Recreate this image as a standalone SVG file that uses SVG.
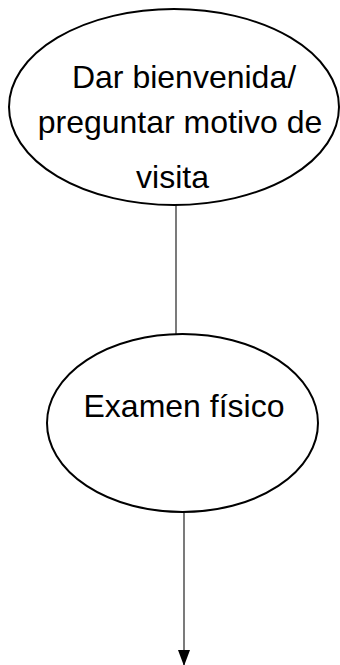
<svg xmlns="http://www.w3.org/2000/svg" width="340" height="665" viewBox="0 0 340 665">
<style>
.node{fill:#fff;stroke:#000;stroke-width:2}
.t{font-family:"Liberation Sans",Arial,sans-serif;font-size:32px;fill:#000;text-anchor:middle}
.c{stroke:#333;stroke-width:1.3;fill:none}
</style>
<defs>
<marker id="ah" markerWidth="16" markerHeight="12" refX="15" refY="6" orient="auto" markerUnits="userSpaceOnUse">
<path d="M0,0 L16,6 L0,12 Z" fill="#000"/>
</marker>
</defs>
<rect width="340" height="665" fill="#fff"/>
<g id="connectors">
<line class="c" x1="176" y1="205" x2="176" y2="334"/>
<line class="c" x1="184" y1="512" x2="184" y2="665" marker-end="url(#ah)"/>
</g>
<g id="n1">
<ellipse class="node" cx="174" cy="107" rx="165" ry="98"/>
<text class="t" x="184" y="88">Dar bienvenida/</text>
<text class="t" x="180" y="133">preguntar motivo de</text>
<text class="t" x="172.5" y="188">visita</text>
</g>
<g id="n2">
<ellipse class="node" cx="182.5" cy="423" rx="135.5" ry="89"/>
<text class="t" x="184" y="417">Examen físico</text>
</g>
</svg>
